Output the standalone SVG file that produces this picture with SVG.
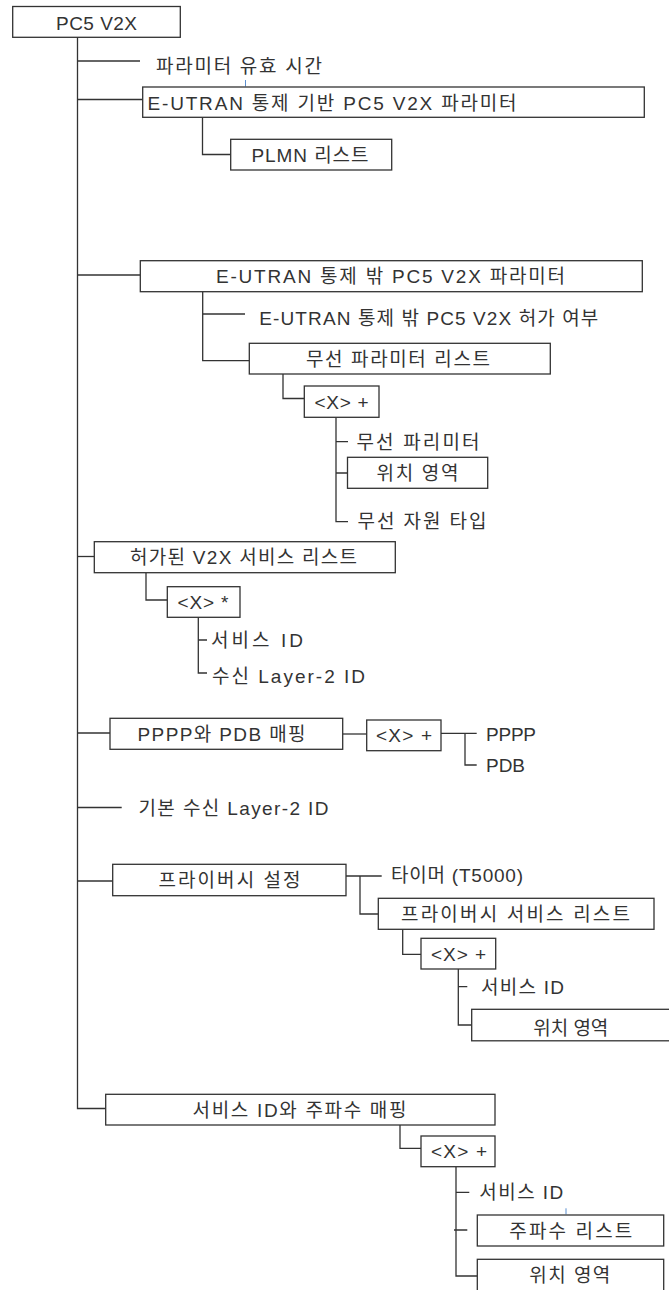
<svg xmlns="http://www.w3.org/2000/svg" width="669" height="1290" viewBox="0 0 669 1290">
<style>
.bx{fill:#fff;stroke:#333;stroke-width:1.3}
.cn{fill:none;stroke:#333;stroke-width:1.3}
.mk{fill:none;stroke:#5b8fd0;stroke-width:1}
text{font-family:"Liberation Sans","Noto Sans CJK KR",sans-serif;font-size:19px;fill:#333}
</style>
<rect width="669" height="1290" fill="#fff"/>
<g id="connectors">
<path class="cn" d="M77.5 37V1108.5H105.7"/>
<path class="cn" d="M77.5 61H140"/>
<path class="cn" d="M77.5 99.5H142.7"/>
<path class="cn" d="M202.5 117.3V154.5H230.7"/>
<path class="cn" d="M77.5 275H140.3"/>
<path class="cn" d="M202.7 291.7V360.7H249.3M202.7 314H245"/>
<path class="cn" d="M283 374V398.5H304.3"/>
<path class="cn" d="M336 417.3V521.7H348M336 441.7H348M336 473H347.5"/>
<path class="cn" d="M77.5 556.5H94.3"/>
<path class="cn" d="M146 572.7V600H167.3"/>
<path class="cn" d="M198.3 617.3V673H207M198.3 640H207"/>
<path class="cn" d="M77.5 733H110"/>
<path class="cn" d="M342.7 734H366.7"/>
<path class="cn" d="M441 733.3H476.7M465 733.3V765H476.7"/>
<path class="cn" d="M77.5 807.5H121.7"/>
<path class="cn" d="M77.5 881H112.7"/>
<path class="cn" d="M346 876H381.7M360 876V914H378.3"/>
<path class="cn" d="M402.7 929.3V954.3H421"/>
<path class="cn" d="M458.3 969V1025H471.7M458.3 986.7H467.3"/>
<path class="cn" d="M400 1125V1148.3H421"/>
<path class="cn" d="M456 1166.7V1276H477.3M456 1192.3H469.3M454 1230H467.3"/>
</g>
<g id="marks">
<path class="mk" d="M245.5 80V86.5M566 1208.3V1214.3"/>
</g>
<g id="n-root"><rect class="bx" x="12.7" y="6.5" width="167.6" height="30.8"/><text x="56" y="29.5" textLength="81" lengthAdjust="spacing">PC5 V2X</text></g>
<g id="n-validity"><text x="156" y="73" textLength="166" lengthAdjust="spacing">파라미터 유효 시간</text></g>
<g id="n-in-coverage"><rect class="bx" x="142.7" y="87" width="501.6" height="30.3"/><text x="147.5" y="109.5" textLength="369" lengthAdjust="spacing">E-UTRAN 통제 기반 PC5 V2X 파라미터</text></g>
<g id="n-plmn"><rect class="bx" x="230.7" y="139.3" width="161" height="30.7"/><text x="251.5" y="161.5" textLength="117" lengthAdjust="spacing">PLMN 리스트</text></g>
<g id="n-out-coverage"><rect class="bx" x="140.3" y="260.7" width="502" height="31"/><text x="216" y="283" textLength="349" lengthAdjust="spacing">E-UTRAN 통제 밖 PC5 V2X 파라미터</text></g>
<g id="n-authorised"><text x="259.3" y="325" textLength="339" lengthAdjust="spacing">E-UTRAN 통제 밖 PC5 V2X 허가 여부</text></g>
<g id="n-radio-list"><rect class="bx" x="249.3" y="343.3" width="301" height="30.7"/><text x="306" y="365.5" textLength="184" lengthAdjust="spacing">무선 파라미터 리스트</text></g>
<g id="n-x1"><rect class="bx" x="304.3" y="386" width="74.7" height="31.3"/><text x="314.5" y="408.5" textLength="54" lengthAdjust="spacing">&lt;X&gt; +</text></g>
<g id="n-radio-param"><text x="356.5" y="448.5" textLength="123" lengthAdjust="spacing">무선 파리미터</text></g>
<g id="n-geo1"><rect class="bx" x="347.5" y="457.3" width="140.2" height="31"/><text x="376.5" y="479.5" textLength="82" lengthAdjust="spacing">위치 영역</text></g>
<g id="n-radio-type"><text x="357.5" y="527.5" textLength="129" lengthAdjust="spacing">무선 자원 타입</text></g>
<g id="n-v2x-list"><rect class="bx" x="94.3" y="541.7" width="301" height="31"/><text x="130" y="564" textLength="227" lengthAdjust="spacing">허가된 V2X 서비스 리스트</text></g>
<g id="n-xstar"><rect class="bx" x="167.3" y="586.7" width="72.7" height="30.6"/><text x="177.5" y="608.5" textLength="51" lengthAdjust="spacing">&lt;X&gt; *</text></g>
<g id="n-svc1"><text x="211" y="647" textLength="92" lengthAdjust="spacing">서비스 ID</text></g>
<g id="n-dst-l2"><text x="212" y="682.5" textLength="153" lengthAdjust="spacing">수신 Layer-2 ID</text></g>
<g id="n-pppp-pdb"><rect class="bx" x="110" y="718.3" width="232.7" height="31"/><text x="137.5" y="740.5" textLength="168" lengthAdjust="spacing">PPPP와 PDB 매핑</text></g>
<g id="n-x2"><rect class="bx" x="366.7" y="720" width="74.3" height="30.7"/><text x="376" y="742" textLength="56" lengthAdjust="spacing">&lt;X&gt; +</text></g>
<g id="n-pppp"><text x="486" y="740.5" textLength="50" lengthAdjust="spacing">PPPP</text></g>
<g id="n-pdb"><text x="486" y="772" textLength="39" lengthAdjust="spacing">PDB</text></g>
<g id="n-default-l2"><text x="138.5" y="815.3" textLength="190" lengthAdjust="spacing">기본 수신 Layer-2 ID</text></g>
<g id="n-privacy"><rect class="bx" x="112.7" y="864.3" width="233.3" height="31.4"/><text x="158.5" y="886.5" textLength="142" lengthAdjust="spacing">프라이버시 설정</text></g>
<g id="n-timer"><text x="391" y="882" textLength="132" lengthAdjust="spacing">타이머 (T5000)</text></g>
<g id="n-privacy-list"><rect class="bx" x="378.3" y="898.3" width="275.7" height="31"/><text x="401" y="920.5" textLength="229" lengthAdjust="spacing">프라이버시 서비스 리스트</text></g>
<g id="n-x3"><rect class="bx" x="421" y="938.3" width="74.7" height="30.7"/><text x="431" y="960.5" textLength="55" lengthAdjust="spacing">&lt;X&gt; +</text></g>
<g id="n-svc2"><text x="481" y="993.5" textLength="83" lengthAdjust="spacing">서비스 ID</text></g>
<g id="n-geo2"><rect class="bx" x="471.7" y="1009.3" width="210" height="31.5"/><text x="533.3" y="1034.5" textLength="75" lengthAdjust="spacing">위치 영역</text></g>
<g id="n-svc-freq"><rect class="bx" x="105.7" y="1094.3" width="389.3" height="30.7"/><text x="192.5" y="1116.5" textLength="214" lengthAdjust="spacing">서비스 ID와 주파수 매핑</text></g>
<g id="n-x4"><rect class="bx" x="421" y="1136" width="74" height="30.7"/><text x="431" y="1158" textLength="56" lengthAdjust="spacing">&lt;X&gt; +</text></g>
<g id="n-svc3"><text x="479.3" y="1199.3" textLength="84" lengthAdjust="spacing">서비스 ID</text></g>
<g id="n-freq-list"><rect class="bx" x="477.3" y="1215" width="186.4" height="31"/><text x="509.3" y="1237.5" textLength="123" lengthAdjust="spacing">주파수 리스트</text></g>
<g id="n-geo3"><rect class="bx" x="477.3" y="1259.3" width="186.4" height="50"/><text x="529.3" y="1282" textLength="81" lengthAdjust="spacing">위치 영역</text></g>
</svg>
